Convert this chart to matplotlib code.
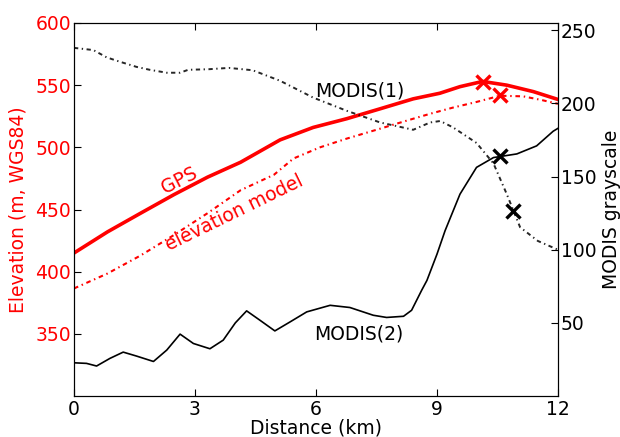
import matplotlib
matplotlib.use("Agg")
import matplotlib.pyplot as plt

# GPS elevation profile (m, left axis)
gps_km = [0, 0.83, 1.65, 2.48, 3.31, 4.13, 5.11, 5.93, 6.76, 7.59, 8.41, 9.07, 9.57,
          10.13, 10.73, 11.39, 12]
gps_elev = [415, 432, 447, 462, 476, 488, 506, 516, 523, 531, 539, 543.5, 548.8,
            553, 550, 544.8, 538.5]

# elevation model (m, left axis)
model_km = [0, 0.83, 1.65, 2.48, 3.31, 4.13, 4.96, 5.44, 6.1, 6.76, 7.59, 8.2, 8.83,
            9.4, 9.98, 10.56, 11.14, 11.6, 12]
model_elev = [386.5, 398.5, 413, 429.5, 447, 465.5, 478, 491, 500, 507, 515, 521, 527,
              532, 536.5, 541.5, 541, 538, 535]

# MODIS(1) grayscale (right axis)
modis1_km = [0, 0.48, 0.81, 1.14, 1.55, 1.88, 2.3, 2.63, 2.83, 3.34, 3.84, 4.43, 5.11,
             5.93, 6.76, 7.59, 8.41, 8.83, 9.08, 9.4, 9.98, 10.4, 10.73, 11.06, 11.5, 12]
modis1_val = [238, 236.5, 231.5, 228.5, 225, 223, 221, 221, 223, 223.4, 224.3, 222.7, 215.5,
              204, 195, 187, 182, 187, 188, 183.6, 173, 159, 138, 115.4, 106, 100]

# MODIS(2) grayscale (right axis)
modis2_km = [0, 0.31, 0.56, 0.89, 1.22, 1.55, 1.97, 2.3, 2.63, 2.96, 3.37, 3.7, 4.0,
             4.28, 4.61, 4.98, 5.36, 5.77, 6.35, 6.84, 7.42, 7.75, 8.17, 8.37, 8.62,
             8.75, 9.0, 9.2, 9.57, 9.98, 10.4, 10.98, 11.47, 11.88, 12]
modis2_val = [22.7, 22.3, 20.5, 25.7, 30, 27.3, 23.6, 31.4, 42.3, 35.9, 32.3, 38.2, 50,
              58.2, 51.8, 44.5, 50.7, 57.5, 62, 60.5, 55.2, 53.7, 54.5, 58.6, 72.3,
              79, 97, 113, 138, 156.3, 163, 165.5, 171, 181, 183]

# crosses
red_x_km = [10.13, 10.56]
red_x_elev = [552.8, 542]
black_x_km = [10.56, 10.89]
black_x_val = [164.3, 126.8]

FS = 13.5
plt.rcParams['font.family'] = ['DejaVu Sans']
plt.rcParams['font.size'] = FS

fig = plt.figure(figsize=(6.2, 4.37), dpi=100)
ax1 = fig.add_axes([74 / 620, 1 - 396 / 437, 484 / 620, 373 / 437])
ax2 = ax1.twinx()

dashdot = (2.2, 1.8, 0.7, 1.8)

ax1.plot(gps_km, gps_elev, color='red', lw=2.6, solid_joinstyle='round')
ax1.plot(model_km, model_elev, color='red', lw=1.5, dashes=dashdot)
ax1.plot(red_x_km, red_x_elev, linestyle='none', marker='x', color='red',
         markersize=9.5, markeredgewidth=2.4)

ax2.plot(modis1_km, modis1_val, color='black', lw=1.4, dashes=dashdot, alpha=0.85)
ax2.plot(modis2_km, modis2_val, color='black', lw=1.2)
ax2.plot(black_x_km, black_x_val, linestyle='none', marker='x', color='black',
         markersize=9.5, markeredgewidth=2.4)

ax1.set_xlim(0, 12)
ax1.set_ylim(300, 600)
ax2.set_ylim(0, 255)
ax1.set_xticks([0, 3, 6, 9, 12])
ax1.set_yticks([350, 400, 450, 500, 550, 600])
ax2.set_yticks([50, 100, 150, 200, 250])

ax1.tick_params(axis='x', direction='in', top=True, length=5, pad=3, labelsize=FS)
ax1.tick_params(axis='y', direction='in', length=5, pad=2, labelsize=FS,
                labelcolor='red')
ax2.tick_params(axis='y', direction='in', length=5, pad=2, labelsize=FS)

ax1.set_xlabel('Distance (km)', fontsize=FS, labelpad=-0.5)
ax1.set_ylabel('Elevation (m, WGS84)', color='red', fontsize=FS, labelpad=6)
ax2.set_ylabel('MODIS grayscale', fontsize=FS, labelpad=4)

ax1.text(2.6, 473, 'GPS', color='red', rotation=27, ha='center', va='center',
         fontsize=FS)
ax1.text(3.97, 447, 'elevation model', color='red', rotation=26, ha='center',
         va='center', fontsize=FS)
ax2.text(7.08, 208.5, 'MODIS(1)', color='black', ha='center', va='center', fontsize=FS)
ax2.text(7.07, 42.7, 'MODIS(2)', color='black', ha='center', va='center', fontsize=FS)

fig.savefig('out.png', dpi=100)
